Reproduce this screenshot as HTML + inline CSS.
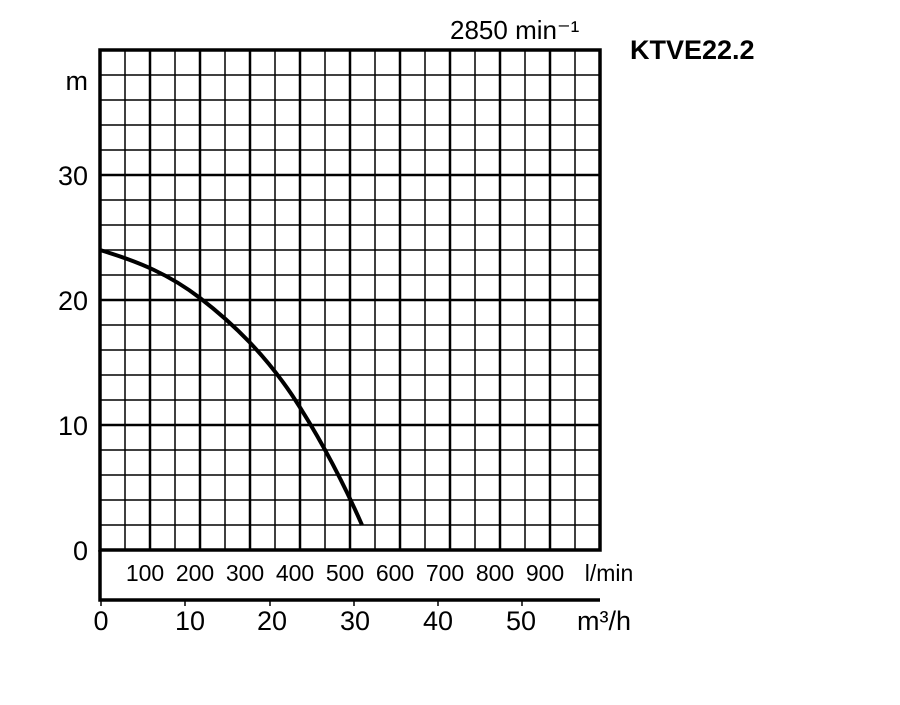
<!DOCTYPE html>
<html><head><meta charset="utf-8"><style>body{margin:0;background:#fff}</style></head><body>
<svg width="900" height="700" xmlns="http://www.w3.org/2000/svg" font-family="Liberation Sans, Arial, sans-serif">
<rect width="900" height="700" fill="#fff"/>
<g stroke="#000" stroke-width="1.5">
<path d="M125 50V550M175 50V550M225 50V550M275 50V550M325 50V550M375 50V550M425 50V550M475 50V550M525 50V550M575 50V550"/>
<path d="M100 75H600M100 100H600M100 125H600M100 150H600M100 200H600M100 225H600M100 250H600M100 275H600M100 325H600M100 350H600M100 375H600M100 400H600M100 450H600M100 475H600M100 500H600M100 525H600"/>
</g>
<g stroke="#000" stroke-width="2.5">
<path d="M150 50V550M200 50V550M250 50V550M300 50V550M350 50V550M400 50V550M450 50V550M500 50V550M550 50V550"/>
<path d="M100 175H600M100 300H600M100 425H600"/>
</g>
<g stroke="#000" stroke-width="3.5" fill="none">
<rect x="100" y="50" width="500" height="500"/>
<path d="M100 550V600H600"/>
</g>
<g stroke="#000" stroke-width="1.5">
<path d="M101 600V606M185 600V606M270 600V606M354 600V606M438 600V606M522 600V606"/>
</g>
<path d="M100 250C140 262 170 275 200 298C235 325 265 355 292 395C315 430 340 475 362 525" stroke="#000" stroke-width="4" fill="none"/>
<g font-size="27" fill="#000" text-anchor="end">
<text x="88" y="90">m</text>
<text x="88" y="185">30</text>
<text x="88" y="310">20</text>
<text x="88" y="435">10</text>
<text x="88" y="560">0</text>
</g>
<g font-size="23" fill="#000" text-anchor="middle">
<text x="145" y="581">100</text><text x="195" y="581">200</text><text x="245" y="581">300</text><text x="295" y="581">400</text><text x="345" y="581">500</text><text x="395" y="581">600</text><text x="445" y="581">700</text><text x="495" y="581">800</text><text x="545" y="581">900</text>
<text x="609" y="581">l/min</text>
</g>
<g font-size="27" fill="#000" text-anchor="middle">
<text x="101" y="630">0</text><text x="190" y="630">10</text><text x="272" y="630">20</text><text x="355" y="630">30</text><text x="438" y="630">40</text><text x="521" y="630">50</text>
<text x="604" y="630">m³/h</text>
</g>
<text x="450" y="39" font-size="26" fill="#000">2850 min⁻¹</text>
<text x="630" y="59" font-size="27" font-weight="bold" fill="#000">KTVE22.2</text>
</svg>
</body></html>
